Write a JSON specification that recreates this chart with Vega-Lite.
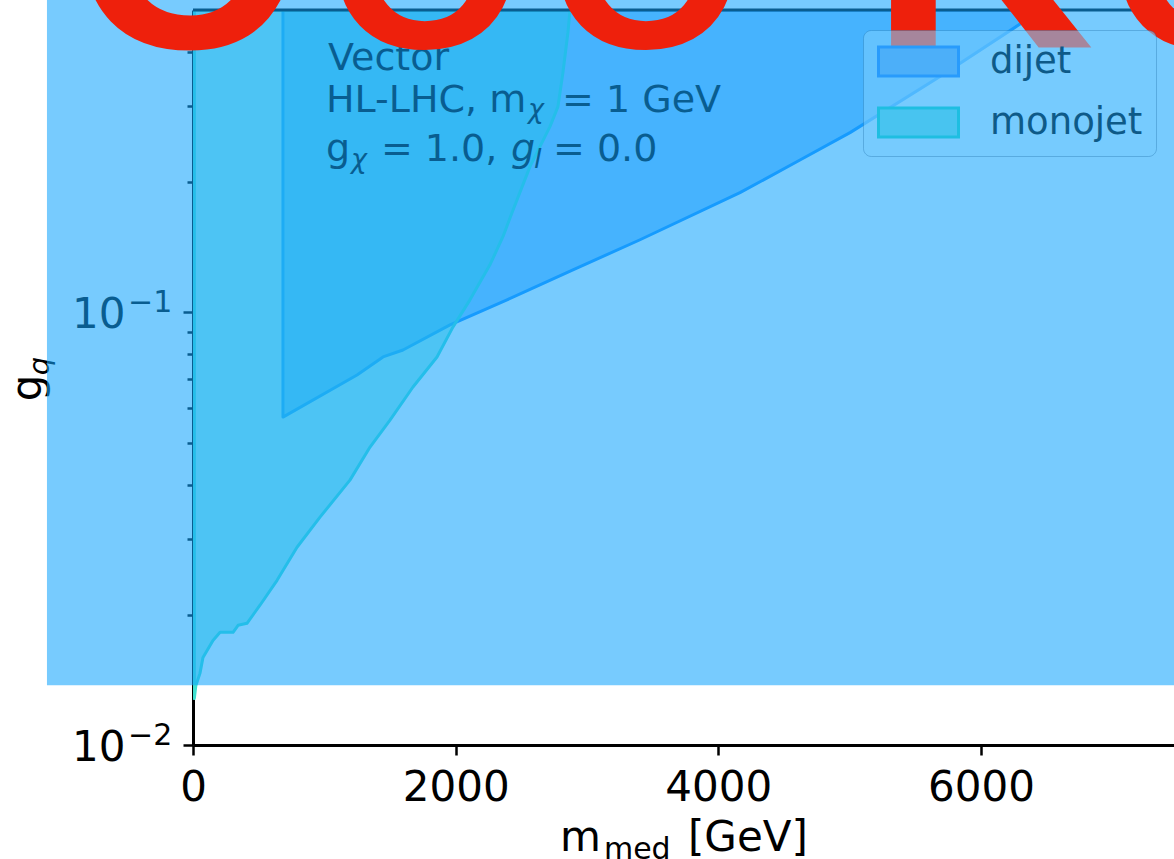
{
  "$schema": "https://vega.github.io/schema/vega-lite/v6.json",
  "width": 981,
  "height": 735,
  "autosize": {"type": "none"},
  "padding": {"left": 193, "top": 10, "right": 0, "bottom": 114},
  "background": "white",
  "config": {
    "view": {"stroke": null},
    "axis": {"labelFont": "DejaVu Sans", "grid": false},
    "text": {"font": "DejaVu Sans"},
    "legend": {
      "title": null, "orient": "none", "legendX": 670, "legendY": 20, "direction": "vertical",
      "labelFont": "DejaVu Sans", "labelFontSize": 37, "labelColor": "#0E5A88",
      "labelOffset": 77, "labelLimit": 0,
      "symbolType": "M-1,-0.9L4,-0.9L4,0.9L-1,0.9Z", "symbolSize": 1024, "symbolStrokeWidth": 3, "symbolOpacity": 1,
      "padding": 13, "rowPadding": 20,
      "fillColor": "rgba(119,203,254,0.6)", "strokeColor": "rgba(20,100,160,0.3)", "cornerRadius": 8
    }
  },
  "datasets": {
    "dijet": [
      {"m_med": 685, "g_low": 0.05728, "g_high": 0.5},
      {"m_med": 1249, "g_low": 0.07166, "g_high": 0.5},
      {"m_med": 1447, "g_low": 0.07888, "g_high": 0.5},
      {"m_med": 1599, "g_low": 0.08187, "g_high": 0.5},
      {"m_med": 1957, "g_low": 0.09356, "g_high": 0.5},
      {"m_med": 2391, "g_low": 0.1069, "g_high": 0.5},
      {"m_med": 2893, "g_low": 0.1254, "g_high": 0.5},
      {"m_med": 3404, "g_low": 0.1472, "g_high": 0.5},
      {"m_med": 4165, "g_low": 0.1891, "g_high": 0.5},
      {"m_med": 4622, "g_low": 0.225, "g_high": 0.5},
      {"m_med": 5003, "g_low": 0.2603, "g_high": 0.5},
      {"m_med": 5688, "g_low": 0.3508, "g_high": 0.5},
      {"m_med": 6350, "g_low": 0.4754, "g_high": 0.5},
      {"m_med": 6465, "g_low": 0.5, "g_high": 0.5}
    ],
    "monojet": [
      {"m_med": 10, "g_low": 0.0128, "g_high": 0.5},
      {"m_med": 22, "g_low": 0.01373, "g_high": 0.5},
      {"m_med": 53, "g_low": 0.01464, "g_high": 0.5},
      {"m_med": 76, "g_low": 0.01594, "g_high": 0.5},
      {"m_med": 152, "g_low": 0.01745, "g_high": 0.5},
      {"m_med": 206, "g_low": 0.01822, "g_high": 0.5},
      {"m_med": 305, "g_low": 0.01822, "g_high": 0.5},
      {"m_med": 343, "g_low": 0.01891, "g_high": 0.5},
      {"m_med": 411, "g_low": 0.01911, "g_high": 0.5},
      {"m_med": 510, "g_low": 0.02104, "g_high": 0.5},
      {"m_med": 640, "g_low": 0.02403, "g_high": 0.5},
      {"m_med": 792, "g_low": 0.02865, "g_high": 0.5},
      {"m_med": 967, "g_low": 0.03363, "g_high": 0.5},
      {"m_med": 1195, "g_low": 0.04095, "g_high": 0.5},
      {"m_med": 1348, "g_low": 0.04884, "g_high": 0.5},
      {"m_med": 1500, "g_low": 0.05637, "g_high": 0.5},
      {"m_med": 1675, "g_low": 0.06723, "g_high": 0.5},
      {"m_med": 1858, "g_low": 0.07888, "g_high": 0.5},
      {"m_med": 1980, "g_low": 0.09256, "g_high": 0.5},
      {"m_med": 2109, "g_low": 0.1069, "g_high": 0.5},
      {"m_med": 2261, "g_low": 0.1288, "g_high": 0.5},
      {"m_med": 2360, "g_low": 0.1496, "g_high": 0.5},
      {"m_med": 2429, "g_low": 0.1699, "g_high": 0.5},
      {"m_med": 2566, "g_low": 0.2172, "g_high": 0.5},
      {"m_med": 2718, "g_low": 0.2688, "g_high": 0.5},
      {"m_med": 2779, "g_low": 0.299, "g_high": 0.5},
      {"m_med": 2817, "g_low": 0.3584, "g_high": 0.5},
      {"m_med": 2855, "g_low": 0.4436, "g_high": 0.5},
      {"m_med": 2871, "g_low": 0.5, "g_high": 0.5}
    ],
    "frame_top": [{"g": 0.5}],
    "tick_exponent": [
      {"m": -495, "g": 0.1, "t": "\u22121"},
      {"m": -495, "g": 0.01, "t": "\u22122"}
    ],
    "note_text": [
      {"m": 1028, "g": 0.3641, "t": "Vector"},
      {"m": 1013, "g": 0.2911, "t": "HL-LHC, m"},
      {"m": 2810, "g": 0.2911, "t": "= 1 GeV"},
      {"m": 1013, "g": 0.2242, "t": "g"},
      {"m": 1431, "g": 0.2242, "t": "= 1.0,"},
      {"m": 2741, "g": 0.2242, "t": "= 0.0"}
    ],
    "note_italic": [
      {"m": 2421, "g": 0.2242, "t": "g"}
    ],
    "note_sub": [
      {"m": 2551, "g": 0.2819, "t": "χ"},
      {"m": 1203, "g": 0.216, "t": "χ"},
      {"m": 2597, "g": 0.216, "t": "l"}
    ],
    "xtitle_main": [
      {"m": 2794, "g": 0.005701, "t": "m"},
      {"m": 3769, "g": 0.005701, "t": "[GeV]"}
    ],
    "xtitle_sub": [
      {"m": 3129, "g": 0.005462, "t": "med"}
    ],
    "ytitle_main": [
      {"m": -1157, "g": 0.06686, "t": "g"}
    ],
    "ytitle_sub": [
      {"m": -1096, "g": 0.07518, "t": "q"}
    ],
    "veil": [
      {"m": -1112, "m2": 8000, "g": 0.01374, "g2": 0.6}
    ],
    "banner": [
      {"m": 1767, "g": 0.4095, "t": "O"},
      {"m": 3453, "g": 0.4095, "t": "O"},
      {"m": 7729, "g": 0.4095, "t": "O"}
    ],
    "banner_wide": [
      {"m": -84, "g": 0.4095, "t": "C"},
      {"m": 6010, "g": 0.4095, "t": "K"}
    ]
  },
  "layer": [
    {
      "data": {"name": "dijet"},
      "mark": {"type": "area", "clip": true, "fill": "#1E90FF", "fillOpacity": 0.5, "stroke": "#1E90FF", "strokeWidth": 3, "strokeJoin": "round"},
      "encoding": {
        "x": {
          "field": "m_med", "type": "quantitative", "title": null,
          "scale": {"domain": [0, 7470], "nice": false, "zero": false},
          "axis": {
            "orient": "bottom", "values": [0, 2000, 4000, 6000], "format": "d", "labelFlush": false,
            "labelFontSize": 42, "labelColor": "#000", "labelPadding": 12,
            "tickSize": 10, "tickWidth": 2.5, "tickColor": "#000",
            "domainColor": "#000", "domainWidth": 3, "grid": false
          }
        },
        "y": {
          "field": "g_low", "type": "quantitative", "title": null,
          "scale": {"type": "log", "domain": [0.01, 0.5], "nice": false},
          "axis": {
            "orient": "left",
            "values": [0.01, 0.02, 0.03, 0.04, 0.05, 0.06, 0.07, 0.08, 0.09, 0.1, 0.2, 0.3, 0.4],
            "labelExpr": "(datum.value == 0.01 || datum.value == 0.1) ? '10' : ''",
            "labelFontSize": 42, "labelColor": "#000", "labelPadding": 58,
            "labelBaseline": "alphabetic", "labelOffset": 15,
            "tickSize": {"condition": {"test": "datum.value == 0.01 || datum.value == 0.1", "value": 10}, "value": 6},
            "tickWidth": 2.5, "tickColor": "#000",
            "domainColor": "#000", "domainWidth": 3, "grid": false
          }
        },
        "y2": {"field": "g_high"}
      }
    },
    {
      "data": {"name": "monojet"},
      "mark": {"type": "area", "clip": true, "fill": "#40E0D0", "fillOpacity": 0.5, "stroke": "#40E0D0", "strokeWidth": 3, "strokeJoin": "round"},
      "encoding": {
        "x": {"field": "m_med", "type": "quantitative", "title": null},
        "y": {"field": "g_low", "type": "quantitative", "title": null},
        "y2": {"field": "g_high"}
      }
    },
    {
      "data": {"values": []},
      "mark": {"type": "rect"},
      "encoding": {
        "fill": {
          "field": "channel", "type": "nominal",
          "scale": {"domain": ["dijet", "monojet"], "range": ["#4CAFF9", "#48C4F0"]},
          "legend": {"title": null}
        },
        "stroke": {
          "field": "channel", "type": "nominal",
          "scale": {"domain": ["dijet", "monojet"], "range": ["#289BFC", "#1EBEE1"]},
          "legend": {"title": null}
        }
      }
    },
    {
      "data": {"name": "frame_top"},
      "mark": {"type": "rule", "color": "#000", "strokeWidth": 3},
      "encoding": {
        "y": {"field": "g", "type": "quantitative"}
      }
    },
    {
      "data": {"name": "tick_exponent"},
      "mark": {"type": "text", "align": "left", "baseline": "alphabetic", "font": "DejaVu Sans", "fontSize": 30, "color": "#000"},
      "encoding": {
        "x": {"field": "m", "type": "quantitative"},
        "y": {"field": "g", "type": "quantitative"},
        "text": {"field": "t"}
      }
    },
    {
      "data": {"name": "note_text"},
      "mark": {"type": "text", "align": "left", "baseline": "alphabetic", "font": "DejaVu Sans", "fontSize": 38, "color": "#000"},
      "encoding": {
        "x": {"field": "m", "type": "quantitative"},
        "y": {"field": "g", "type": "quantitative"},
        "text": {"field": "t"}
      }
    },
    {
      "data": {"name": "note_italic"},
      "mark": {"type": "text", "align": "left", "baseline": "alphabetic", "font": "DejaVu Sans", "fontStyle": "italic", "fontSize": 38, "color": "#000"},
      "encoding": {
        "x": {"field": "m", "type": "quantitative"},
        "y": {"field": "g", "type": "quantitative"},
        "text": {"field": "t"}
      }
    },
    {
      "data": {"name": "note_sub"},
      "mark": {"type": "text", "align": "left", "baseline": "alphabetic", "font": "DejaVu Sans", "fontStyle": "italic", "fontSize": 27, "color": "#000"},
      "encoding": {
        "x": {"field": "m", "type": "quantitative"},
        "y": {"field": "g", "type": "quantitative"},
        "text": {"field": "t"}
      }
    },
    {
      "data": {"name": "xtitle_main"},
      "mark": {"type": "text", "align": "left", "baseline": "alphabetic", "font": "DejaVu Sans", "fontSize": 42, "color": "#000"},
      "encoding": {
        "x": {"field": "m", "type": "quantitative"},
        "y": {"field": "g", "type": "quantitative"},
        "text": {"field": "t"}
      }
    },
    {
      "data": {"name": "xtitle_sub"},
      "mark": {"type": "text", "align": "left", "baseline": "alphabetic", "font": "DejaVu Sans", "fontSize": 30, "color": "#000"},
      "encoding": {
        "x": {"field": "m", "type": "quantitative"},
        "y": {"field": "g", "type": "quantitative"},
        "text": {"field": "t"}
      }
    },
    {
      "data": {"name": "ytitle_main"},
      "mark": {"type": "text", "align": "center", "baseline": "alphabetic", "angle": 270, "font": "DejaVu Sans", "fontSize": 42, "color": "#000"},
      "encoding": {
        "x": {"field": "m", "type": "quantitative"},
        "y": {"field": "g", "type": "quantitative"},
        "text": {"field": "t"}
      }
    },
    {
      "data": {"name": "ytitle_sub"},
      "mark": {"type": "text", "align": "center", "baseline": "alphabetic", "angle": 270, "font": "DejaVu Sans", "fontStyle": "italic", "fontSize": 29, "color": "#000"},
      "encoding": {
        "x": {"field": "m", "type": "quantitative"},
        "y": {"field": "g", "type": "quantitative"},
        "text": {"field": "t"}
      }
    },
    {
      "data": {"name": "veil"},
      "mark": {"type": "rect", "color": "#10A3FD", "opacity": 0.57},
      "encoding": {
        "x": {"field": "m", "type": "quantitative"},
        "x2": {"field": "m2"},
        "y": {"field": "g", "type": "quantitative"},
        "y2": {"field": "g2"}
      }
    },
    {
      "data": {"name": "banner"},
      "mark": {"type": "text", "align": "center", "baseline": "alphabetic", "font": "Liberation Sans", "fontWeight": "bold", "fontSize": 255, "color": "#EE200C"},
      "encoding": {
        "x": {"field": "m", "type": "quantitative"},
        "y": {"field": "g", "type": "quantitative"},
        "text": {"field": "t"}
      }
    },
    {
      "data": {"name": "banner_wide"},
      "mark": {"type": "text", "align": "center", "baseline": "alphabetic", "font": "Liberation Sans", "fontWeight": "bold", "fontSize": 310, "color": "#EE200C"},
      "encoding": {
        "x": {"field": "m", "type": "quantitative"},
        "y": {"field": "g", "type": "quantitative"},
        "text": {"field": "t"}
      }
    }
  ]
}
